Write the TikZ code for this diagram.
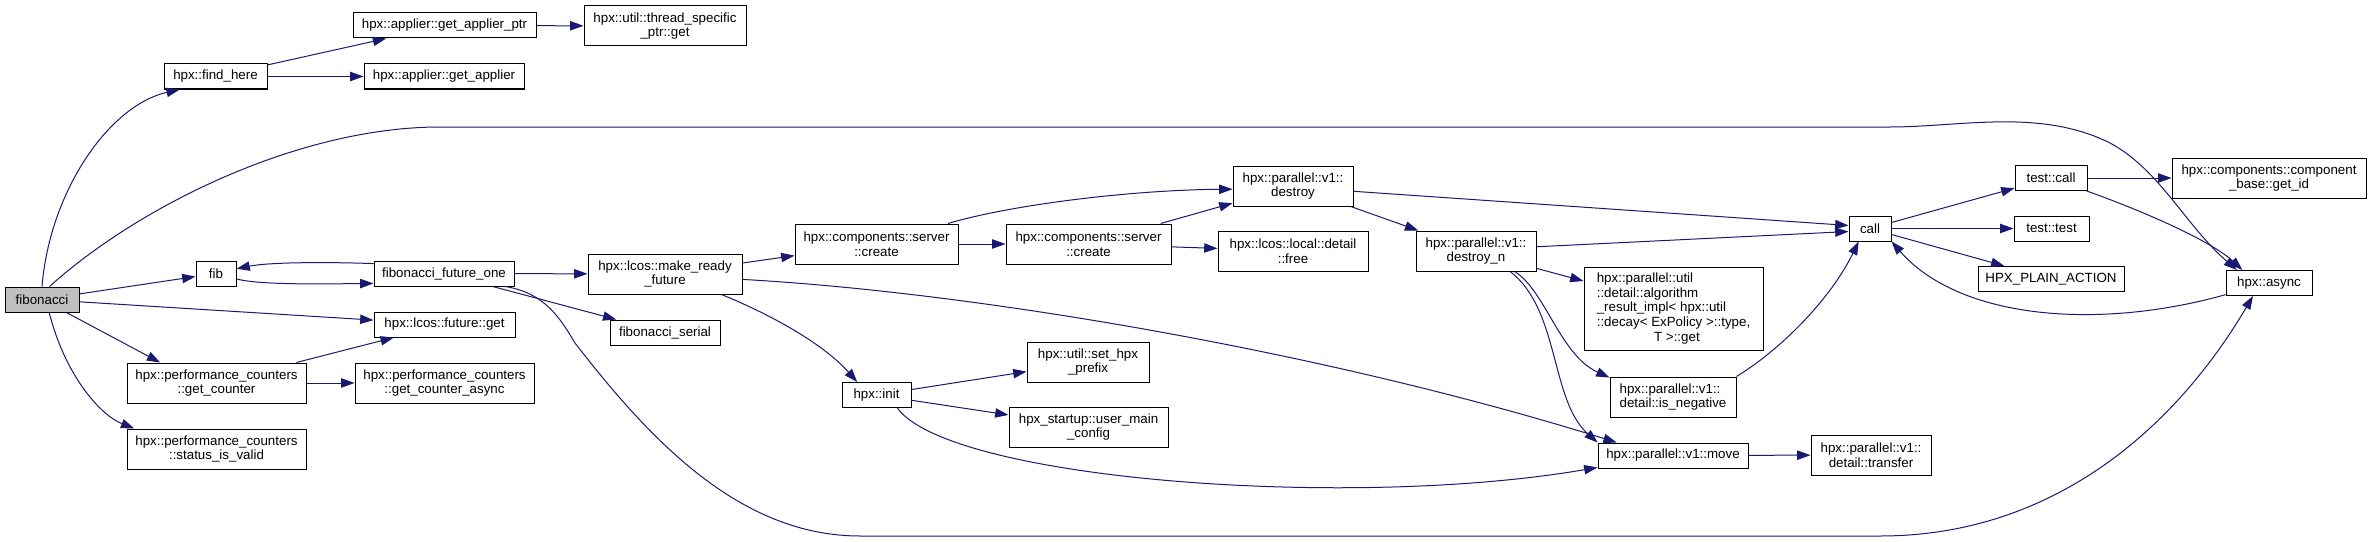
\documentclass[tikz,border=0pt]{standalone}
\usepackage{fontspec}
\setmainfont{Liberation Sans}
\usetikzlibrary{arrows.meta}
\definecolor{midnightblue}{RGB}{25,25,112}
\definecolor{grey75}{RGB}{191,191,191}
\begin{document}
\begin{tikzpicture}[x=0.75pt, y=-0.75pt,
    fn/.style={draw=black, fill=white, line width=0.75pt, font=\fontsize{10}{11}\selectfont, align=center, inner xsep=2pt, inner ysep=2pt, minimum height=18.75pt},
    twoline/.style={minimum height=30pt},
    calls/.style={draw=midnightblue, line width=0.75pt, -{Triangle[length=10pt,width=7pt]}}]
    \useasboundingbox (0,0) rectangle (2372,542);
    \node[fn, fill=grey75, minimum width=55.5pt] (fibonacci) at (42,299.5) {fibonacci};
    \node[fn, minimum width=77.25pt] (findhere) at (215.5,76.5) {hpx::find\_here};
    \node[fn, minimum width=137.25pt] (applierptr) at (444.5,25.5) {hpx::applier::get\_applier\_ptr};
    \node[fn, twoline, minimum width=121.5pt] (tsptrget) at (665,26) {hpx::util::thread\_specific\\\_ptr::get};
    \node[fn, minimum width=120pt] (getapplier) at (444,76.5) {hpx::applier::get\_applier};
    \node[fn, minimum width=30pt] (fib) at (216,273.5) {fib};
    \node[fn, minimum width=105pt] (futureone) at (444,273.5) {fibonacci\_future\_one};
    \node[fn, minimum width=105.75pt] (futureget) at (444.5,324.5) {hpx::lcos::future::get};
    \node[fn, twoline, minimum width=134.25pt] (getcounter) at (216.5,383) {hpx::performance\_counters\\::get\_counter};
    \node[fn, twoline, minimum width=134.25pt] (counterasync) at (444.5,383) {hpx::performance\_counters\\::get\_counter\_async};
    \node[fn, twoline, minimum width=134.25pt] (statusvalid) at (216.5,449) {hpx::performance\_counters\\::status\_is\_valid};
    \node[fn, twoline, minimum width=115.5pt] (readyfuture) at (665,274) {hpx::lcos::make\_ready\\\_future};
    \node[fn, minimum width=82.5pt] (fibserial) at (665,332.5) {fibonacci\_serial};
    \node[fn, twoline, minimum width=122.25pt] (createa) at (876.5,244) {hpx::components::server\\::create};
    \node[fn, minimum width=51.75pt] (hpxinit) at (876.5,395) {hpx::init};
    \node[fn, twoline, minimum width=123.75pt] (createb) at (1088.5,244) {hpx::components::server\\::create};
    \node[fn, twoline, minimum width=91.5pt] (hpxprefix) at (1088,362) {hpx::util::set\_hpx\\\_prefix};
    \node[fn, twoline, minimum width=119.25pt] (mainconfig) at (1088.5,427) {hpx\_startup::user\_main\\\_config};
    \node[fn, twoline, minimum width=90pt] (destroy) at (1293,186) {hpx::parallel::v1::\\destroy};
    \node[fn, twoline, minimum width=112.5pt] (localfree) at (1293,251) {hpx::lcos::local::detail\\::free};
    \node[fn, twoline, minimum width=90pt] (destroyn) at (1476,251) {hpx::parallel::v1::\\destroy\_n};
    \node[fn, align=left, minimum width=134.25pt, minimum height=62.25pt] (algoresult) at (1673.5,308.5) {hpx::parallel::util\\::detail::algorithm\\\_result\_impl< hpx::util\\::decay< ExPolicy >::type,\\\hspace*{43pt}T >::get};
    \node[fn, twoline, align=left, minimum width=94.5pt] (isnegative) at (1673,397) {hpx::parallel::v1::\\detail::is\_negative};
    \node[fn, minimum width=112.5pt] (pmove) at (1673,455.5) {hpx::parallel::v1::move};
    \node[fn, minimum width=31.5pt] (callfn) at (1870,228.5) {call};
    \node[fn, twoline, minimum width=90pt] (transfer) at (1871,455) {hpx::parallel::v1::\\detail::transfer};
    \node[fn, minimum width=54pt] (testcall) at (2051,178) {test::call};
    \node[fn, minimum width=56.25pt] (testtest) at (2051.5,228.5) {test::test};
    \node[fn, minimum width=109.5pt] (plainaction) at (2051,279) {HPX\_PLAIN\_ACTION};
    \node[fn, twoline, minimum width=145.5pt] (getid) at (2269,178) {hpx::components::component\\\_base::get\_id};
    \node[fn, minimum width=64.5pt] (async) at (2269,283) {hpx::async};
    \draw[calls] (fibonacci.north) .. controls (50,190) and (110,105) .. (findhere.200);
    \draw[calls] (fibonacci.60) .. controls (140,205) and (300,127) .. (440,127) -- (1890,127) .. controls (1960,127) and (2040,108) .. (2110,143) .. controls (2160,170) and (2185,225) .. (async.158);
    \draw[calls] (fibonacci) -- (fib);
    \draw[calls] (fibonacci) -- (futureget);
    \draw[calls] (fibonacci) -- (getcounter.160);
    \draw[calls] (fibonacci.-61) .. controls (65,375) and (100,415) .. (statusvalid.166);
    \draw[calls] (findhere) -- (applierptr);
    \draw[calls] (findhere) -- (getapplier);
    \draw[calls] (applierptr) -- (tsptrget);
    \draw[calls] (fib.-15) .. controls (260,285) and (320,284) .. (futureone.188);
    \draw[calls] (futureone.172) .. controls (330,262) and (270,262) .. (fib.13);
    \draw[calls] (futureone) -- (readyfuture);
    \draw[calls] (futureone) -- (fibserial);
    \draw[calls] (futureone.-12) .. controls (545,293) and (560,318) .. (575,343) .. controls (650,440) and (740,536) .. (860,536) -- (1880,536) .. controls (2060,536) and (2180,420) .. (async.219);
    \draw[calls] (readyfuture) -- (createa);
    \draw[calls] (readyfuture.-4) .. controls (970,292) and (1320,350) .. (pmove.167);
    \draw[calls] (readyfuture.-20) .. controls (760,310) and (820,340) .. (hpxinit.146);
    \draw[calls] (createa) -- (createb);
    \draw[calls] (createa.16) .. controls (1010,205) and (1130,190) .. (destroy.183);
    \draw[calls] (createb) -- (destroy);
    \draw[calls] (createb) -- (localfree);
    \draw[calls] (destroy) -- (destroyn);
    \draw[calls] (destroy.-5) -- (callfn.172);
    \draw[calls] (destroyn.4) -- (callfn.188);
    \draw[calls] (destroyn.-16) -- (algoresult.163);
    \draw[calls] (destroyn.-28) .. controls (1545,290) and (1560,355) .. (isnegative.163);
    \draw[calls] (destroyn.-31) .. controls (1560,310) and (1550,400) .. (pmove.north west);
    \draw[calls] (isnegative.north east) .. controls (1780,350) and (1830,300) .. (callfn.229);
    \draw[calls] (callfn) -- (testcall);
    \draw[calls] (callfn) -- (testtest);
    \draw[calls] (callfn) -- (plainaction);
    \draw[calls] (testcall) -- (getid);
    \draw[calls] (testcall.-20) .. controls (2140,210) and (2210,240) .. (async.154);
    \draw[calls] (async.195) .. controls (2100,330) and (1960,320) .. (callfn.south east);
    \draw[calls] (pmove) -- (transfer);
    \draw[calls] (hpxinit) -- (hpxprefix);
    \draw[calls] (hpxinit) -- (mainconfig);
    \draw[calls] (hpxinit.-32) .. controls (950,480) and (1350,510) .. (pmove.189);
    \draw[calls] (getcounter) -- (futureget);
    \draw[calls] (getcounter) -- (counterasync);
\end{tikzpicture}
\end{document}
